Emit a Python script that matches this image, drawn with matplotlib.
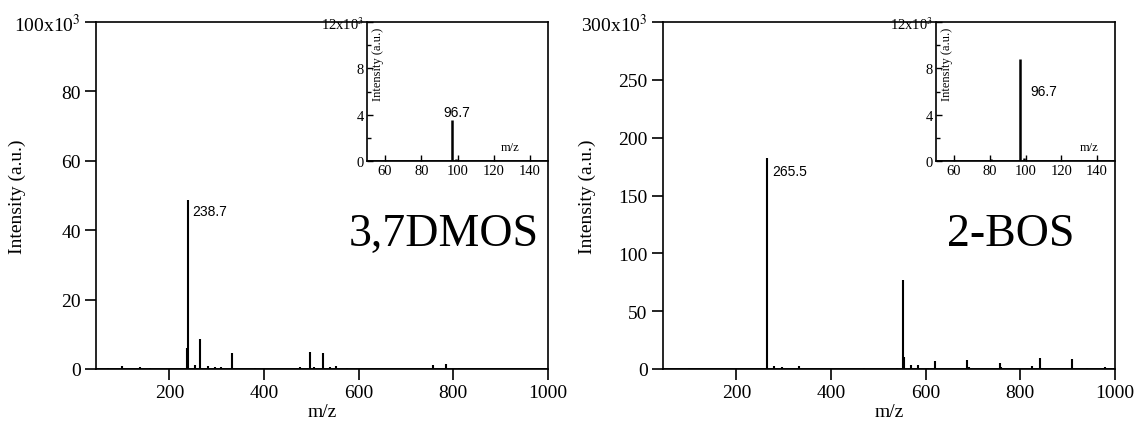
import numpy as np
import matplotlib.pyplot as plt
from matplotlib.ticker import FixedLocator, FuncFormatter

plt.rcParams['font.family'] = ['Liberation Serif', 'DejaVu Serif']
plt.rcParams['mathtext.fontset'] = 'stix'

# peak lists, intensity in 10^3 a.u.
dmos_mz = [70, 100, 137, 160, 236.5, 238.7, 255, 265, 281, 297, 310, 333, 381,
           475, 497, 505, 525, 540, 553, 575, 757, 785, 812]
dmos_int = [0.3, 0.8, 0.6, 0.3, 6.0, 48.8, 1.2, 8.7, 1.0, 0.6, 0.5, 4.5, 0.3,
            0.6, 4.8, 0.6, 4.5, 0.5, 1.0, 0.4, 1.2, 1.5, 0.4]
dmos_inset_mz = [96.7, 99.0]
dmos_inset_int = [3.5, 0.2]

bos_mz = [100, 225, 265.5, 279, 297, 333, 470, 540, 553, 555, 568, 583, 605, 620,
          688, 692, 757, 760, 825, 841, 909, 940, 978]
bos_int = [0.6, 0.4, 182, 2.5, 2.0, 3.0, 1.0, 1.0, 77, 10, 3.5, 3.5, 1.0, 6.5,
           7.5, 1.5, 5.5, 1.5, 2.5, 9.5, 9.0, 1.0, 1.5]
bos_inset_mz = [60, 81, 96.7, 99.0]
bos_inset_int = [0.1, 0.15, 8.8, 0.3]

panels = [
    dict(mz=dmos_mz, inten=dmos_int, imz=dmos_inset_mz, iint=dmos_inset_int,
         ymax=100, yticks=[0, 20, 40, 60, 80, 100], name='3,7DMOS',
         label='238.7', label_peak=238.7, ilabel_xy=(99.5, 4.2), ilabel_ha='center',
         left=96, ileft=367, mz_label_x=0.79, ylab_x=-0.155),
    dict(mz=bos_mz, inten=bos_int, imz=bos_inset_mz, iint=bos_inset_int,
         ymax=300, yticks=[0, 50, 100, 150, 200, 250, 300], name='2-BOS',
         label='265.5', label_peak=265.5, ilabel_xy=(103, 6.0), ilabel_ha='left',
         left=663, ileft=936, mz_label_x=0.855, ylab_x=-0.148),
]

W, H = 1137, 431
fig = plt.figure(figsize=(W / 100, H / 100), dpi=100)


def top_label(top):
    def fmt(v, pos):
        if v == top:
            return r'%dx10$^{3}$' % top
        return '%d' % v
    return fmt


for p in panels:
    ax = fig.add_axes([p['left'] / W, (H - 370) / H, 452 / W, 347 / H])
    ax.vlines(p['mz'], 0, p['inten'], color='black', lw=1.5)
    ax.axhline(0, color='black', lw=2)
    ax.set_xlim(45, 1000)
    ax.set_ylim(0, p['ymax'])
    ax.set_xticks([200, 400, 600, 800, 1000])
    ax.yaxis.set_major_locator(FixedLocator(p['yticks']))
    ax.yaxis.set_major_formatter(FuncFormatter(top_label(p['ymax'])))
    ax.tick_params(direction='out', length=8, width=1.2, labelsize=14, pad=3)
    for s in ax.spines.values():
        s.set_linewidth(1.2)
    ax.set_xlabel('m/z', fontsize=14, labelpad=1)
    ax.set_ylabel('Intensity (a.u.)', fontsize=14)
    ax.yaxis.set_label_coords(p['ylab_x'], 0.5)

    top = max(p['inten'])
    ax.text(p['label_peak'] + 10, top * 0.975, p['label'], family='Liberation Sans',
            fontsize=10, va='top', ha='left')
    ax.text(780, p['ymax'] * 0.39, p['name'], fontsize=33, ha='center', va='center')

    # inset, sharing the top right corner of the main axes
    ins = fig.add_axes([p['ileft'] / W, (H - 162) / H,
                        (p['left'] + 452 - p['ileft']) / W, 139 / H])
    ins.patch.set_alpha(0)
    ins.vlines(p['imz'], 0, p['iint'], color='black', lw=1.8)
    ins.axhline(0, color='black', lw=1.2)
    ins.set_xlim(50, 150)
    ins.set_ylim(0, 12)
    ins.set_xticks([60, 80, 100, 120, 140])
    ins.set_yticks([0, 4, 8, 12])
    ins.set_yticks([2, 6, 10], minor=True)
    ins.yaxis.set_major_formatter(FuncFormatter(top_label(12)))
    ins.tick_params(direction='in', length=4, width=1, labelsize=10.5, pad=2)
    ins.tick_params(which='minor', direction='in', length=3, width=1)
    ins.spines['top'].set_visible(False)
    ins.spines['right'].set_visible(False)
    for s in ('left', 'bottom'):
        ins.spines[s].set_linewidth(1.2)
    ins.text(0.06, 0.70, 'Intensity (a.u.)', transform=ins.transAxes, rotation=90,
             fontsize=9, ha='center', va='center')
    ins.text(p['mz_label_x'], 0.10, 'm/z', transform=ins.transAxes, fontsize=9,
             ha='center', va='center')
    ins.text(p['ilabel_xy'][0], p['ilabel_xy'][1], '96.7', family='Liberation Sans',
             fontsize=10, ha=p['ilabel_ha'], va='center')

fig.savefig('out.png', dpi=100)
